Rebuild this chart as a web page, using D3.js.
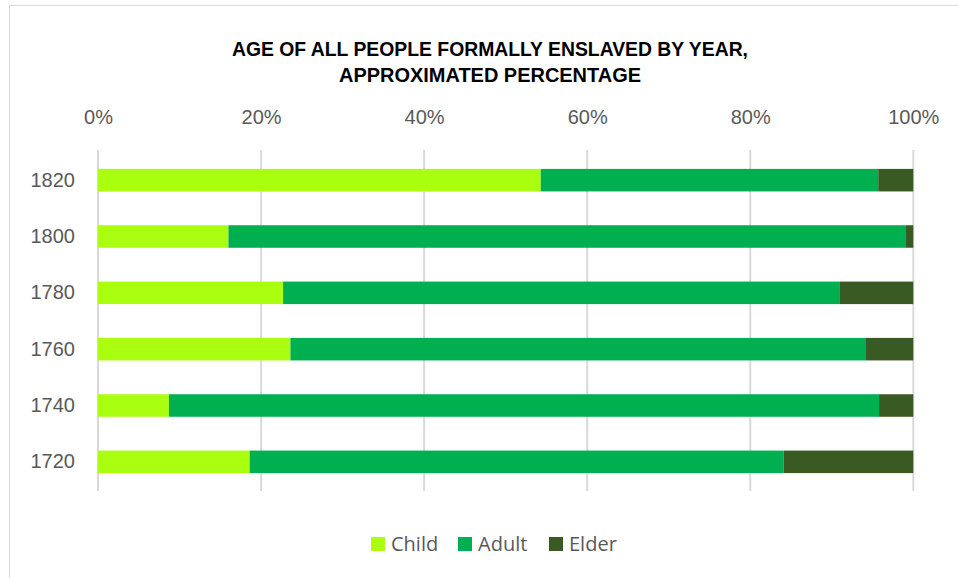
<!DOCTYPE html>
<html><head><meta charset="utf-8">
<script src="https://cdn.jsdelivr.net/npm/d3@7"></script>
<style>
body{margin:0;background:#fff;}
svg{display:block;}
</style></head>
<body><svg id="c" width="958" height="578"></svg>
<script>
const years = ["1820","1800","1780","1760","1740","1720"];
const seriesNames = ["Child","Adult","Elder"];
const child = [54.3, 16.0, 22.7, 23.6, 8.7, 18.6];
const adult = [41.4, 83.1, 68.3, 70.6, 87.1, 65.5];
const elder = [4.3, 0.9, 9.0, 5.8, 4.2, 15.9];
const xTicks = [0, 20, 40, 60, 80, 100];
const colors = ["#aaff11", "#00b050", "#3a5a24"];
const title = ["AGE OF ALL PEOPLE FORMALLY ENSLAVED BY YEAR,", "APPROXIMATED PERCENTAGE"];

const svg = d3.select("#c");
// frame
svg.append("rect").attr("x",9.5).attr("y",5.5).attr("width",960).attr("height",580)
  .attr("fill","#fff").attr("stroke","#d9d9d9").attr("stroke-width",1);

const pLeft = 98, pRight = 913.3, pTop = 150, pBottom = 491;
const x = d3.scaleLinear().domain([0,100]).range([pLeft,pRight]);
const y = d3.scaleBand().domain(years).range([pTop+2, pBottom-1]).paddingInner(0.6).paddingOuter(0.3);

// gridlines
svg.append("g").selectAll("line").data(xTicks).join("line")
  .attr("x1",d=>x(d)).attr("x2",d=>x(d)).attr("y1",pTop).attr("y2",pBottom)
  .attr("stroke","#d9d9d9").attr("stroke-width",2);

// top axis labels
const ax = svg.append("g").attr("transform",`translate(0,${pTop})`)
  .call(d3.axisTop(x).tickValues(xTicks).tickFormat(d=>d+"%").tickSize(0).tickPadding(26));
ax.select(".domain").remove();
ax.selectAll("text").attr("fill","#595959").attr("font-family","Liberation Sans, sans-serif")
  .attr("font-size",20);

// left axis labels
const ay = svg.append("g").attr("transform",`translate(${pLeft},0)`)
  .call(d3.axisLeft(y).tickSize(0).tickPadding(23));
ay.select(".domain").remove();
ay.selectAll("text").attr("fill","#595959").attr("font-family","Liberation Sans, sans-serif")
  .attr("font-size",20);

// stacked bars
const rows = years.map((yr,i)=>({year:yr, Child:child[i], Adult:adult[i], Elder:elder[i]}));
const stack = d3.stack().keys(seriesNames)(rows);
const color = d3.scaleOrdinal().domain(seriesNames).range(colors);
svg.append("g").selectAll("g").data(stack).join("g")
  .attr("fill",d=>color(d.key))
  .selectAll("rect").data(d=>d).join("rect")
  .attr("x",d=>x(d[0])).attr("width",d=>x(d[1])-x(d[0]))
  .attr("y",d=>y(d.data.year)).attr("height",y.bandwidth());

// title
const titleW = [516, 302];
svg.append("g").selectAll("text").data(title).join("text")
  .attr("x",490).attr("y",(d,i)=>56+i*26).attr("text-anchor","middle")
  .attr("font-family","Liberation Sans, sans-serif")
  .attr("font-weight","bold").attr("font-size",20).attr("fill","#000")
  .attr("textLength",(d,i)=>titleW[i]).attr("lengthAdjust","spacingAndGlyphs")
  .text(d=>d);

// legend
const legX = [371, 458, 549];
const lg = svg.append("g").selectAll("g").data(seriesNames).join("g")
  .attr("transform",(d,i)=>`translate(${legX[i]},537)`);
lg.append("rect").attr("width",14).attr("height",14).attr("fill",d=>color(d));
lg.append("text").attr("x",20).attr("y",14).attr("fill","#595959")
  .attr("font-family","Open Sans, sans-serif").attr("font-size",20).text(d=>d);
</script></body></html>
